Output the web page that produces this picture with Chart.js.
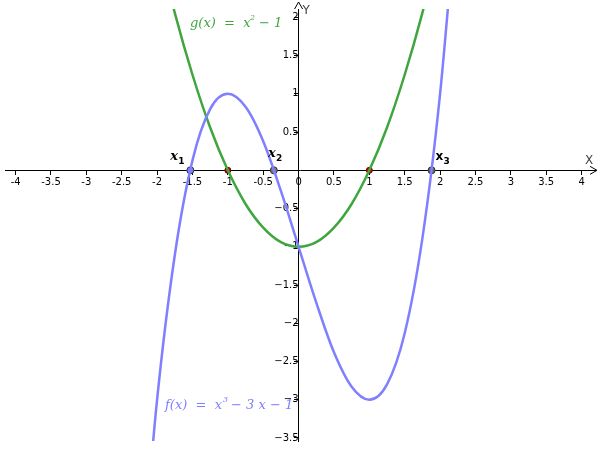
<!DOCTYPE html>
<html>
<head>
<script src="https://cdn.jsdelivr.net/npm/chart.js@4"></script>
<style>html,body{margin:0;background:#fff}#wrap{width:600px;height:450px}</style>
</head>
<body>
<div id="wrap"><canvas id="c"></canvas></div>
<script>
// samples
const fX = [-2.25, -2, -1.75, -1.5, -1.25, -1, -0.75, -0.5, -0.25, 0, 0.25, 0.5, 0.75, 1, 1.25, 1.5, 1.75, 2, 2.25];
const fY = [-5.64, -3, -1.11, 0.13, 0.8, 1, 0.83, 0.38, -0.27, -1, -1.73, -2.38, -2.83, -3, -2.8, -2.13, -0.89, 1, 3.64];
const gX = [-2, -1.75, -1.5, -1.25, -1, -0.75, -0.5, -0.25, 0, 0.25, 0.5, 0.75, 1, 1.25, 1.5, 1.75, 2];
const gY = [3, 2.06, 1.25, 0.56, 0, -0.44, -0.75, -0.94, -1, -0.94, -0.75, -0.44, 0, 0.56, 1.25, 2.06, 3];
const rootsF = [-1.53, -0.35, 1.88];
const rootsFill = ["#7f7fff", "#777777", "#666666"];
const rootLabels = ["1", "2", "3"];
const rootLabelX = [-1.7, -0.32, 2.05];
const rootLabelY = [0.13, 0.17, 0.13];
const rootsG = [-1, 1];

const BLUE = "#7f7fff", GREEN = "#3fa63f";

const xy = (xs, ys) => xs.map((x, i) => ({ x, y: ys[i] }));

const decor = {
  id: "decor",
  afterDatasetsDraw(chart) {
    const { ctx, scales: { x, y } } = chart;
    const ox = x.getPixelForValue(0), oy = y.getPixelForValue(0);
    ctx.save();
    ctx.strokeStyle = "#000"; ctx.lineWidth = 1;
    // arrows
    ctx.beginPath();
    ctx.moveTo(590, oy - 4); ctx.lineTo(597, oy); ctx.lineTo(590, oy + 4);
    ctx.moveTo(ox - 4, 9); ctx.lineTo(ox, 2); ctx.lineTo(ox + 4, 9);
    ctx.stroke();
    ctx.fillStyle = "#444"; ctx.font = "12px 'DejaVu Sans'";
    ctx.fillText("X", 585, oy - 6);
    ctx.fillText("Y", ox + 4, 14);
    // root labels
    rootLabels.forEach((s, i) => {
      const px = x.getPixelForValue(rootLabelX[i]), py = y.getPixelForValue(rootLabelY[i]);
      ctx.fillStyle = "#000";
      ctx.font = (i == 2 ? "bold 12px 'DejaVu Sans'" : "bold italic 13px 'DejaVu Serif'");
      ctx.fillText("x", px - 8, py);
      ctx.font = "bold 9px 'DejaVu Sans'";
      ctx.fillText(s, px, py + 4);
    });
    // function labels
    ctx.font = "italic 13px 'DejaVu Serif'";
    ctx.fillStyle = GREEN;
    ctx.fillText("g(x)  =  x", 190, 27);
    ctx.fillText("− 1", 259, 27);
    ctx.font = "italic 8px 'DejaVu Serif'";
    ctx.fillText("2", 250, 20);
    ctx.font = "italic 13px 'DejaVu Serif'";
    ctx.fillStyle = BLUE;
    ctx.fillText("f(x)  =  x", 165, 409);
    ctx.fillText("− 3 x − 1", 231, 409);
    ctx.font = "italic 8px 'DejaVu Serif'";
    ctx.fillText("3", 223, 402);
    ctx.restore();
  }
};

new Chart(document.getElementById("c"), {
  type: "scatter",
  data: {
    datasets: [
      { data: xy(fX, fY), showLine: true, borderColor: BLUE, borderWidth: 2.5, pointRadius: 0, cubicInterpolationMode: "monotone" },
      { data: xy(gX, gY), showLine: true, borderColor: GREEN, borderWidth: 2.5, pointRadius: 0, cubicInterpolationMode: "monotone" },
      { data: rootsF.map(v => ({ x: v, y: 0 })), pointRadius: 3.5, backgroundColor: rootsFill, borderColor: "#333", borderWidth: 1 },
      { data: rootsG.map(v => ({ x: v, y: 0 })), pointRadius: 3, backgroundColor: "#d00000", borderColor: "#600", borderWidth: 1 }
    ]
  },
  options: {
    responsive: true,
    maintainAspectRatio: false,
    animation: false,
    layout: { padding: 0 },
    plugins: { legend: { display: false }, tooltip: { enabled: false } },
    scales: {
      x: {
        type: "linear", min: -4.15, max: 4.19, position: { y: 0 },
        afterBuildTicks: s => { s.ticks = []; for (let i = -8; i <= 8; i++) s.ticks.push({ value: i / 2 }); },
        border: { color: "#000" },
        grid: { drawOnChartArea: false, tickLength: 4, color: "#000" },
        ticks: { color: "#000", font: { size: 10, family: "'DejaVu Sans'" }, padding: 2, maxRotation: 0,
          callback: v => v === 0 ? "0" : String(v) }
      },
      y: {
        type: "linear", min: -3.54, max: 2.11, position: { x: 0 },
        afterBuildTicks: s => { s.ticks = []; for (let i = -7; i <= 4; i++) if (i) s.ticks.push({ value: i / 2 }); },
        border: { color: "#000" },
        grid: { drawOnChartArea: false, tickLength: 4, color: "#000" },
        ticks: { color: "#000", font: { size: 10, family: "'DejaVu Sans'" }, padding: 3,
          callback: v => String(v).replace("-", "−") }
      }
    }
  },
  plugins: [decor]
});
</script>
</body>
</html>
